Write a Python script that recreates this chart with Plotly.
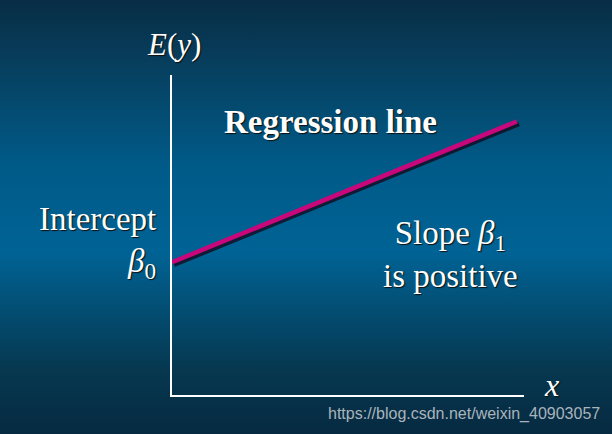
import plotly.graph_objects as go

# regression line (two end points of E(y) = b0 + b1*x)
x_line = [0, 9.8]
y_line = [4.15, 8.55]

# labels
y_title = "<i>E</i>(<i>y</i>)"
x_title = "<i>x</i>"
line_label = "<b>Regression line</b>"
intercept_label = "Intercept"
b0_label = "<i>β</i><sub>0</sub>"
slope_label = "Slope <i>β</i><sub>1</sub><br>is positive"
watermark = "https://blog.csdn.net/weixin_40903057"

# background gradient (bottom -> top)
bg_scale = [[0.0, "#062a41"], [0.15, "#063850"], [0.42, "#006395"],
            [0.62, "#005a88"], [0.85, "#073f5e"], [1.0, "#082d45"]]

fig = go.Figure()

# background on full-size hidden axes
fig.add_trace(go.Scatter(x=[0, 1, 1, 0, 0], y=[0, 0, 1, 1, 0], mode="lines",
                         line=dict(width=0), fill="toself",
                         fillgradient=dict(type="vertical", colorscale=bg_scale),
                         hoverinfo="skip", showlegend=False))

# shadow + regression line
fig.add_trace(go.Scatter(x=[v + 0.06 for v in x_line], y=[v - 0.08 for v in y_line],
                         mode="lines", line=dict(color="rgba(20,10,30,0.8)", width=4.5),
                         xaxis="x2", yaxis="y2", hoverinfo="skip", showlegend=False))
fig.add_trace(go.Scatter(x=x_line, y=y_line, mode="lines",
                         line=dict(color="#c8087a", width=4.5),
                         xaxis="x2", yaxis="y2", showlegend=False))

serif = "Liberation Serif"
shadow = "1px 1px 1px #101010"
txt = dict(family=serif, size=33, color="white", shadow=shadow)

def label(text, px, py, font, xanchor="center"):
    return dict(text=text, x=px/612, y=1-py/434, xref="paper", yref="paper",
                xanchor=xanchor, yanchor="middle", showarrow=False, font=font)

fig.update_layout(
    width=612, height=434,
    margin=dict(l=0, r=0, t=0, b=0),
    paper_bgcolor="#04405f",
    plot_bgcolor="rgba(0,0,0,0)",
    xaxis=dict(domain=[0, 1], range=[0, 1], visible=False, fixedrange=True),
    yaxis=dict(domain=[0, 1], range=[0, 1], visible=False, fixedrange=True),
    xaxis2=dict(domain=[0.281, 0.856], range=[0, 10], anchor="y2",
                showline=True, linecolor="white", linewidth=1.5,
                showgrid=False, zeroline=False, showticklabels=False, ticks=""),
    yaxis2=dict(domain=[0.0899, 0.827], range=[0, 10], anchor="x2",
                showline=True, linecolor="white", linewidth=1.5,
                showgrid=False, zeroline=False, showticklabels=False, ticks=""),
    annotations=[
        label(y_title, 174, 45, dict(txt, size=31)),
        label(x_title, 551, 385, dict(txt, size=32)),
        label(line_label, 330, 122, txt),
        label(intercept_label, 158, 219, txt, "right"),
        label(b0_label, 158, 263, txt, "right"),
        label(slope_label, 450, 254, txt),
        label(watermark, 602, 414,
              dict(family="Liberation Sans", size=16, color="#aab4bc"), "right"),
    ],
)

fig.write_html("out.html", config={"displayModeBar": False},
               post_script="document.body.style.margin='0';document.body.style.overflow='hidden';")
